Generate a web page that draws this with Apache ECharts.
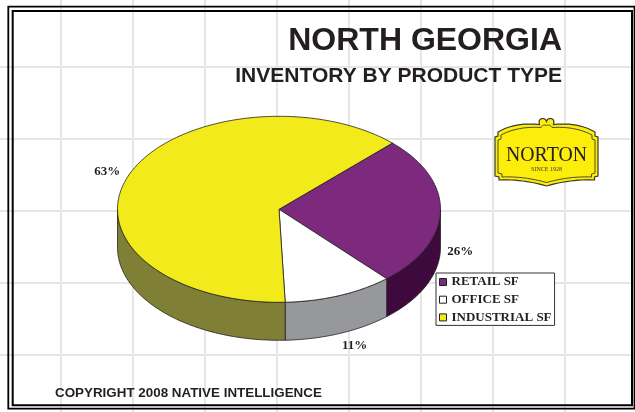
<!DOCTYPE html>
<html>
<head>
<meta charset="utf-8">
<title>North Georgia – Inventory by Product Type</title>
<script src="https://cdn.jsdelivr.net/npm/echarts@6/dist/echarts.min.js"></script>
<style>
  html, body { margin: 0; padding: 0; background: #fff; }
  #chart { width: 635px; height: 412px; }
</style>
</head>
<body>
<div id="chart"></div>
<script>
// Inventory shares by product type (percent)
const categories = ['RETAIL SF', 'OFFICE SF', 'INDUSTRIAL SF'];
const shares = [26, 11, 63];

// Faces of each slice: top colour and the darker rim colour
const topColors = ['#7d2a7e', '#ffffff', '#f2ea1a'];
const rimColors = ['#3e0a3d', '#97989c', '#7f8035'];

// 3D pie geometry (pixels)
const PIE = { cx: 279, cy: 209.3, rx: 161.5, ry: 93, depth: 38, start: -45.4 };
const INK = '#231f20';

const total = shares.reduce((a, b) => a + b, 0);

function pt(deg, dy) {
  const r = deg * Math.PI / 180;
  return [PIE.cx + PIE.rx * Math.cos(r), PIE.cy + PIE.ry * Math.sin(r) + (dy || 0)];
}

function arc(a, b, dy) {
  const pts = [];
  const n = Math.max(2, Math.ceil(Math.abs(b - a)));
  for (let k = 0; k <= n; k++) pts.push(pt(a + (b - a) * k / n, dy));
  return pts;
}

function renderSlice(params, api) {
  const i = params.seriesIndex;
  let before = 0;
  for (let k = 0; k < i; k++) before += shares[k];
  const a0 = PIE.start + before / total * 360;
  const a1 = a0 + api.value(0) / total * 360;
  const children = [];

  // front rim: only the part of the slice facing the viewer (lower half of the ellipse)
  [[-360, -180], [0, 180], [360, 540]].forEach(function (w) {
    const lo = Math.max(a0, w[0]);
    const hi = Math.min(a1, w[1]);
    if (hi > lo) {
      const pts = arc(lo, hi, 0).concat(arc(hi, lo, PIE.depth));
      children.push({
        type: 'polygon', z2: 1,
        shape: { points: pts },
        style: { fill: rimColors[i], stroke: INK, lineWidth: 0.8 }
      });
    }
  });

  // top face
  children.push({
    type: 'polygon', z2: 10,
    shape: { points: [[PIE.cx, PIE.cy]].concat(arc(a0, a1, 0)) },
    style: { fill: topColors[i], stroke: INK, lineWidth: 0.8 }
  });

  // percentage label outside the slice
  const mid = (a0 + a1) / 2 * Math.PI / 180;
  const c = Math.cos(mid), s = Math.sin(mid);
  const lx = PIE.cx + (PIE.rx + 19.5) * c + 8.5 * s;
  const ly = PIE.cy + (PIE.ry + 11) * s + (s >= 0 ? PIE.depth + 2 : 0);
  children.push({
    type: 'text', z2: 20,
    style: {
      text: api.value(0) + '%', x: lx, y: ly,
      align: 'center', verticalAlign: 'middle',
      fontFamily: 'Liberation Serif', fontWeight: 'bold', fontSize: 13, fill: INK
    }
  });

  return { type: 'group', children: children };
}

// Norton badge outline, as line / quadratic-curve segments turned into polygon points
function outline(segs) {
  const pts = [];
  let cur = null;
  segs.forEach(function (s) {
    if (s.length === 2) {
      cur = s; pts.push(s);
    } else {
      for (let k = 1; k <= 12; k++) {
        const t = k / 12, u = 1 - t;
        pts.push([u * u * cur[0] + 2 * u * t * s[0] + t * t * s[2],
                  u * u * cur[1] + 2 * u * t * s[1] + t * t * s[3]]);
      }
      cur = [s[2], s[3]];
    }
  });
  return pts;
}
const badgeOuter = outline([
  [498, 132], [515, 122, 539.5, 124.5], [538, 119, 542.5, 118.5], [545.5, 118.5, 546.5, 121.5],
  [547.5, 118.5, 550.5, 118.5], [555, 119, 553.5, 124.5], [578, 122, 595, 132],
  [595, 136], [598, 137], [598, 176], [594.5, 177], [594.5, 180],
  [570, 179, 546.5, 186], [523, 179, 499, 180], [499, 177], [495, 176], [495, 137], [498, 136]
]);
const badgeInner = outline([
  [501, 135], [518, 126, 541, 127.5], [543, 124, 546.5, 125.5], [550, 124, 552, 127.5], [575, 126, 592, 135],
  [592, 139], [595, 140], [595, 173], [591.5, 174], [591.5, 177],
  [570, 176, 546.5, 182.5], [523, 176, 502, 177], [502, 174], [498, 173], [498, 140], [501, 139]
]);

const chart = echarts.init(document.getElementById('chart'), null, { renderer: 'canvas' });

const gridAxis = {
  type: 'value', min: 0, interval: 72,
  axisLine: { show: false }, axisTick: { show: false }, axisLabel: { show: false },
  splitLine: { show: true, lineStyle: { color: '#e6e6e6', width: 2 } }
};

chart.setOption({
  animation: false,
  backgroundColor: '#ffffff',
  // background ruling: one line every 72px, offset so it starts just off the top-left corner
  grid: { left: -11, top: -5, width: 720, height: 432, show: false, outerBoundsMode: 'none', containLabel: false },
  xAxis: Object.assign({}, gridAxis, { max: 720 }),
  yAxis: Object.assign({}, gridAxis, { max: 432, inverse: true }),
  legend: {
    orient: 'vertical', left: 436, top: 273,
    data: categories,
    icon: 'rect', itemWidth: 7, itemHeight: 7, itemGap: 3.7,
    padding: [2, 3, 1, 3],
    backgroundColor: '#ffffff', borderColor: '#333333', borderWidth: 1, borderRadius: 0,
    selectedMode: false,
    itemStyle: { borderColor: INK, borderWidth: 1 },
    textStyle: { fontFamily: 'Liberation Serif', fontWeight: 'bold', fontSize: 13, lineHeight: 14, color: INK }
  },
  graphic: [
    // double frame
    { type: 'rect', z: 5, shape: { x: 8.3, y: 6.7, width: 626.2, height: 402 },
      style: { fill: 'none', stroke: '#000', lineWidth: 1.8 } },
    { type: 'rect', z: 5, shape: { x: 12.7, y: 11, width: 619.3, height: 394.3 },
      style: { fill: 'none', stroke: '#000', lineWidth: 2 } },
    // titles
    { type: 'text', z: 5, style: { text: 'NORTH GEORGIA', x: 562, y: 41, align: 'right', verticalAlign: 'middle',
      fontFamily: 'Liberation Sans', fontWeight: 'bold', fontSize: 32, fill: INK } },
    { type: 'text', z: 5, style: { text: 'INVENTORY BY PRODUCT TYPE', x: 562, y: 76, align: 'right', verticalAlign: 'middle',
      fontFamily: 'Liberation Sans', fontWeight: 'bold', fontSize: 21, fill: INK } },
    { type: 'text', z: 5, style: { text: 'COPYRIGHT 2008 NATIVE INTELLIGENCE', x: 55, y: 393.5, align: 'left', verticalAlign: 'middle',
      fontFamily: 'Liberation Sans', fontWeight: 'bold', fontSize: 13.4, fill: INK } },
    // badge
    { type: 'polygon', z: 5, shape: { points: badgeOuter }, style: { fill: '#fcee0a', stroke: '#3a3a2a', lineWidth: 1.2 } },
    { type: 'polygon', z: 6, shape: { points: badgeInner }, style: { fill: 'none', stroke: '#3a3a2a', lineWidth: 0.9 } },
    { type: 'text', z: 7, x: 546.5, y: 155, scaleX: 0.9,
      style: { text: 'NORTON', x: 0, y: 0, align: 'center', verticalAlign: 'middle',
        fontFamily: 'Liberation Serif', fontSize: 22, fill: '#231f20' } },
    { type: 'text', z: 7, style: { text: 'SINCE 1928', x: 546.5, y: 169.5, align: 'center', verticalAlign: 'middle',
      fontFamily: 'Liberation Serif', fontSize: 6, fill: '#3a3a2a' } }
  ],
  series: categories.map(function (name, i) {
    return {
      type: 'custom', name: name, coordinateSystem: 'none', silent: true,
      itemStyle: { color: topColors[i] },
      data: [shares[i]],
      renderItem: renderSlice
    };
  })
});
</script>
</body>
</html>
